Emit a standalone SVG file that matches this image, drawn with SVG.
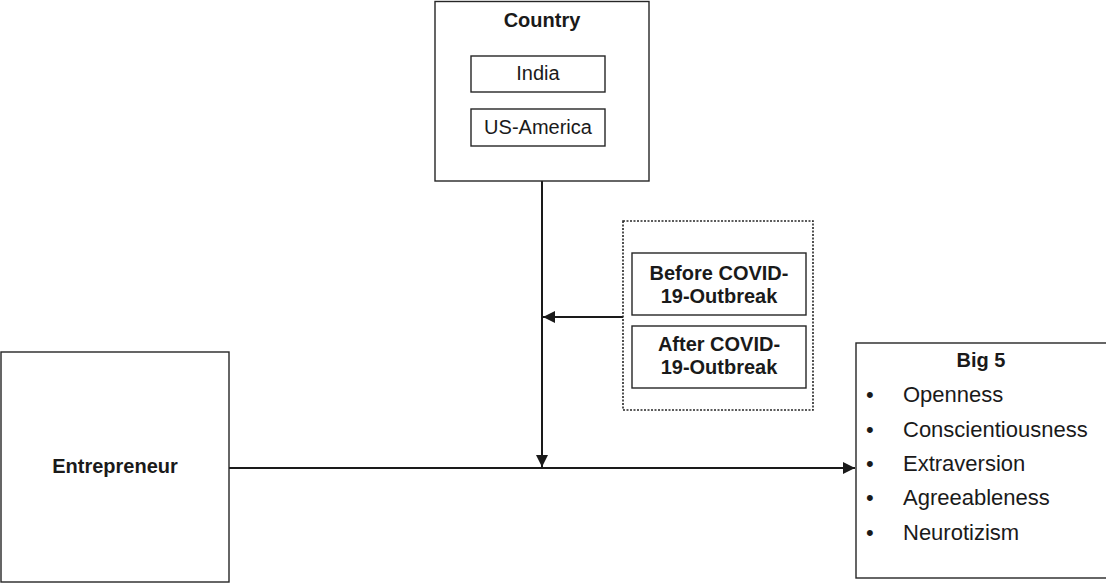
<svg xmlns="http://www.w3.org/2000/svg" width="1106" height="585" viewBox="0 0 1106 585">
<defs>
<style>
.box{fill:#fff;stroke:#262626;stroke-width:1.4}
.dot{fill:none;stroke:#262626;stroke-width:1.6;stroke-dasharray:2 1.5}
.t{font-family:"Liberation Sans",Arial,sans-serif;fill:#1a1a1a}
.b{font-weight:bold;font-size:20px}
.r{font-size:20px}
.i{font-size:22px}
.ln{stroke:#1a1a1a;stroke-width:2;fill:none}
</style>
<marker id="ah" viewBox="0 0 10 10" refX="10" refY="5" markerWidth="6" markerHeight="6" markerUnits="strokeWidth" orient="auto">
<path d="M0,0 L10,5 L0,10 z" fill="#1a1a1a"/>
</marker>
</defs>
<rect width="1106" height="585" fill="#fff"/>
<g id="connectors">
<line class="ln" x1="542" y1="181" x2="542" y2="467" marker-end="url(#ah)"/>
<line class="ln" x1="229" y1="468" x2="855" y2="468" marker-end="url(#ah)"/>
<line class="ln" x1="623" y1="317" x2="543" y2="317" marker-end="url(#ah)"/>
</g>
<g id="country">
<rect class="box" x="435" y="1.5" width="214" height="179.5"/>
<text class="t b" x="542" y="27" text-anchor="middle">Country</text>
<g id="india">
<rect class="box" x="471" y="56" width="134" height="36"/>
<text class="t r" x="538" y="80" text-anchor="middle">India</text>
</g>
<g id="usa">
<rect class="box" x="471" y="109" width="134" height="37"/>
<text class="t r" x="538" y="134" text-anchor="middle">US-America</text>
</g>
</g>
<g id="covid">
<rect class="dot" x="623" y="221" width="190" height="189"/>
<g id="before">
<rect class="box" x="632" y="253" width="174" height="62"/>
<text class="t b" x="719" y="280" text-anchor="middle">Before COVID-</text>
<text class="t b" x="719" y="303" text-anchor="middle">19-Outbreak</text>
</g>
<g id="after">
<rect class="box" x="632" y="326" width="174" height="62"/>
<text class="t b" x="719" y="351" text-anchor="middle">After COVID-</text>
<text class="t b" x="719" y="374" text-anchor="middle">19-Outbreak</text>
</g>
</g>
<g id="entrepreneur">
<rect class="box" x="1" y="352" width="228" height="230"/>
<text class="t b" x="115" y="473" text-anchor="middle">Entrepreneur</text>
</g>
<g id="big5">
<rect class="box" x="856" y="343" width="260" height="235"/>
<text class="t b" x="981" y="367" text-anchor="middle">Big 5</text>
<g class="t i">
<text x="866" y="402">•</text><text x="903" y="402">Openness</text>
<text x="866" y="437">•</text><text x="903" y="437">Conscientiousness</text>
<text x="866" y="471">•</text><text x="903" y="471">Extraversion</text>
<text x="866" y="505">•</text><text x="903" y="505">Agreeableness</text>
<text x="866" y="540">•</text><text x="903" y="540">Neurotizism</text>
</g>
</g>
</svg>
